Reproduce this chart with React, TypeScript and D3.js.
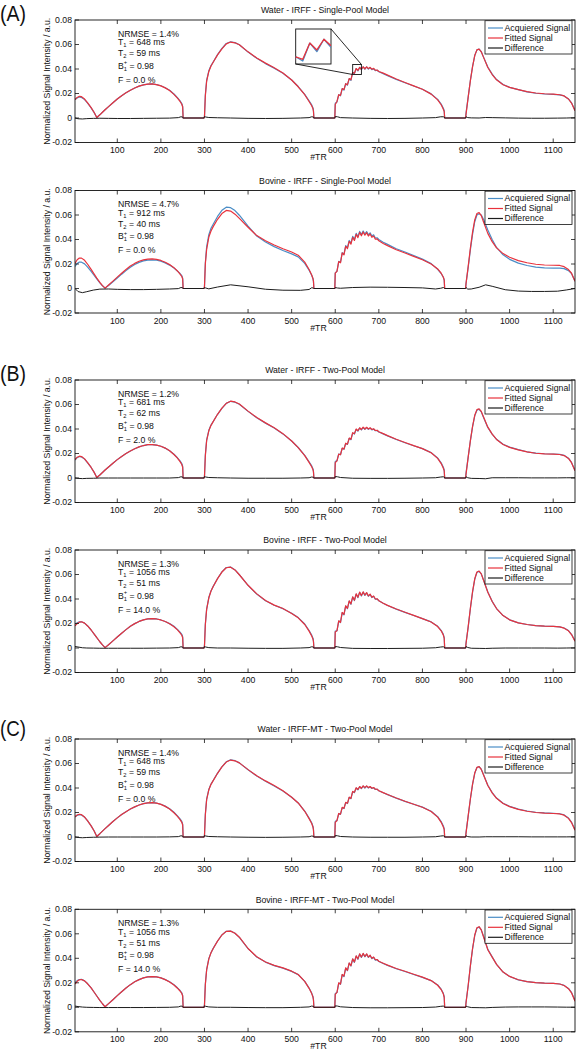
import React from "react";
import * as d3 from "d3";

// ---------------- axes / text ----------------
const X_DOMAIN: [number, number] = [3, 1150];
const Y_DOMAIN: [number, number] = [-0.02, 0.08];
const X_TICKS = [100, 200, 300, 400, 500, 600, 700, 800, 900, 1000, 1100];
const Y_TICKS = [-0.02, 0, 0.02, 0.04, 0.06, 0.08];
const Y_TICK_LABELS = ["-0.02", "0", "0.02", "0.04", "0.06", "0.08"];
const X_LABEL = "#TR";
const Y_LABEL = "Normalized Signal Intensity / a.u.";
const LEGEND = ["Acquiered Signal", "Fitted Signal", "Difference"];

const TITLES = [
  "Water - IRFF - Single-Pool Model",
  "Bovine - IRFF - Single-Pool Model",
  "Water - IRFF - Two-Pool Model",
  "Bovine - IRFF - Two-Pool Model",
  "Water - IRFF-MT - Two-Pool Model",
  "Bovine - IRFF-MT - Two-Pool Model",
];
const LETTERS = ["(A)", "", "(B)", "", "(C)", ""];
const NRMSE = ["1.4%", "4.7%", "1.2%", "1.3%", "1.4%", "1.3%"];
const T1 = ["648 ms", "912 ms", "681 ms", "1056 ms", "648 ms", "1056 ms"];
const T2 = ["59 ms", "40 ms", "62 ms", "51 ms", "59 ms", "51 ms"];
const B1 = ["0.98", "0.98", "0.98", "0.98", "0.98", "0.98"];
const FRAC = ["0.0 %", "0.0 %", "2.0 %", "14.0 %", "0.0 %", "14.0 %"];

// zoomed inset (panel A, water single-pool)
const INSET_TR: [number, number] = [640, 660];
const INSET_V: [number, number] = [0.0355, 0.0437];

// ---------------- data ----------------
const TR = [
  3, 8, 13, 18, 25, 32, 40, 47, 53, 60, 66, 72, 80, 90, 100, 110, 120, 130, 140, 150, 160, 170, 180, 190, 200, 210, 220, 230, 238, 244, 248, 250, 251,
  299, 300, 302, 305, 310, 315, 320, 330, 340, 350, 360, 370, 380, 400, 420, 440, 460, 480, 500, 515, 530, 540, 546, 549, 550, 551,
  599, 600, 604, 608, 612, 616, 620, 624, 628, 632, 636, 640, 644, 648, 652, 656, 660, 664, 668, 672, 676, 680, 684, 688, 692, 696, 700, 710, 720, 740, 760, 780, 800, 820, 835, 843, 848, 850, 851,
  899, 900, 905, 910, 915, 920, 925, 930, 935, 940, 950, 960, 970, 985, 1000, 1020, 1040, 1060, 1080, 1100, 1115, 1125, 1135, 1142, 1150,
];
const TR_DIFF = [
  3, 10, 20, 30, 45, 60, 80, 100, 130, 160, 190, 220, 240, 246, 250, 251,
  299, 300, 303, 310, 330, 360, 400, 440, 480, 520, 540, 546, 550, 551,
  599, 600, 605, 612, 640, 680, 720, 760, 800, 830, 842, 848, 850, 851,
  899, 900, 904, 912, 930, 945, 960, 990, 1020, 1050, 1080, 1110, 1130, 1150,
];

// Water - IRFF - Single-Pool
const WATER_SP_ACQ = [
  .0150, .0164, .0171, .0168, .0150, .0121, .0083, .0044, .0004, .0026, .0047, .0067, .0093, .0125, .0155, .0182, .0206, .0227, .0245, .0260, .0271, .0277, .0278, .0273, .0263, .0247, .0226, .0196, .0166, .0140, .0118, .0095, 0,
  0, .0010, .0190, .0310, .0385, .0428, .0457, .0517, .0568, .0608, .0622, .0615, .0598, .0538, .0487, .0444, .0407, .0365, .0310, .0257, .0193, .0140, .0107, .0082, .0062, 0,
  0, .0120, .0131, .0190, .0181, .0240, .0228, .0280, .0268, .0322, .0308, .0372, .0362, .0404, .0384, .0413, .0394, .0418, .0398, .0417, .0399, .0412, .0395, .0402, .0387, .0390, .0377, .0362, .0346, .0315, .0288, .0261, .0235, .0197, .0152, .0114, .0080, .0060, 0,
  0, .0040, .0172, .0306, .0420, .0510, .0556, .0562, .0541, .0499, .0416, .0358, .0314, .0273, .0250, .0231, .0213, .0202, .0196, .0193, .0189, .0180, .0156, .0124, .0062,
];
const WATER_SP_FIT = [
  .0150, .0168, .0177, .0174, .0155, .0124, .0085, .0045, .0004, .0026, .0047, .0067, .0093, .0125, .0155, .0182, .0206, .0227, .0245, .0260, .0271, .0277, .0278, .0273, .0262, .0246, .0224, .0193, .0162, .0135, .0112, .0090, 0,
  0, .0010, .0180, .0300, .0380, .0425, .0455, .0515, .0565, .0605, .0620, .0614, .0598, .0540, .0490, .0448, .0410, .0368, .0310, .0255, .0190, .0135, .0100, .0075, .0055, 0,
  0, .0110, .0135, .0190, .0185, .0240, .0232, .0280, .0272, .0322, .0312, .0372, .0366, .0404, .0388, .0413, .0398, .0418, .0402, .0418, .0403, .0414, .0398, .0405, .0390, .0392, .0380, .0366, .0350, .0318, .0290, .0262, .0235, .0195, .0148, .0108, .0072, .0052, 0,
  0, .0030, .0170, .0305, .0420, .0510, .0556, .0562, .0540, .0497, .0412, .0355, .0312, .0272, .0250, .0232, .0215, .0204, .0198, .0195, .0190, .0180, .0155, .0122, .0060,
];
const WATER_SP_DIFF = [
  0, -.0006, -.0008, -.0005, -.0003, -.0002, -.0003, -.0004, -.0004, -.0003, -.0002, -.0001, .0003, .0010, .0008, 0,
  0, .0012, .0008, .0004, .0002, .0000, -.0003, -.0004, -.0003, .0000, .0003, .0010, .0008, 0,
  0, .0012, .0010, .0003, .0000, -.0003, -.0004, -.0003, .0000, .0003, .0010, .0010, .0008, 0,
  0, .0010, .0003, .0001, .0000, .0004, .0003, .0001, -.0001, -.0002, -.0002, -.0001, .0000, .0002,
];

// Bovine - IRFF - Single-Pool
const BOVINE_SP_ACQ = [
  .0180, .0205, .0216, .0215, .0201, .0175, .0140, .0106, .0078, .0046, .0022, .0003, .0025, .0055, .0086, .0117, .0146, .0174, .0196, .0213, .0225, .0232, .0234, .0231, .0223, .0209, .0191, .0167, .0142, .0122, .0105, .0085, 0,
  0, .0015, .0210, .0340, .0440, .0492, .0525, .0588, .0638, .0664, .0660, .0636, .0598, .0510, .0428, .0380, .0342, .0310, .0283, .0258, .0205, .0150, .0108, .0079, .0060, 0,
  0, .0128, .0142, .0222, .0213, .0292, .0280, .0350, .0333, .0392, .0370, .0426, .0400, .0450, .0424, .0466, .0440, .0470, .0445, .0465, .0438, .0455, .0428, .0438, .0412, .0414, .0400, .0378, .0360, .0325, .0298, .0269, .0240, .0203, .0157, .0122, .0092, .0070, 0,
  0, .0040, .0172, .0315, .0442, .0545, .0600, .0610, .0600, .0565, .0478, .0400, .0335, .0275, .0238, .0207, .0188, .0175, .0168, .0167, .0167, .0162, .0146, .0122, .0060,
];
const BOVINE_SP_FIT = [
  .0205, .0235, .0249, .0248, .0230, .0198, .0156, .0117, .0085, .0050, .0024, .0003, .0028, .0060, .0093, .0125, .0155, .0183, .0205, .0222, .0234, .0240, .0242, .0238, .0229, .0214, .0195, .0170, .0143, .0118, .0098, .0078, 0,
  0, .0015, .0200, .0320, .0420, .0470, .0505, .0565, .0612, .0637, .0632, .0607, .0572, .0500, .0432, .0390, .0355, .0325, .0298, .0272, .0215, .0155, .0110, .0080, .0060, 0,
  0, .0125, .0140, .0220, .0210, .0290, .0275, .0345, .0325, .0385, .0362, .0418, .0392, .0442, .0415, .0458, .0430, .0462, .0435, .0456, .0428, .0445, .0418, .0428, .0402, .0405, .0390, .0368, .0350, .0316, .0290, .0262, .0235, .0200, .0160, .0125, .0092, .0068, 0,
  0, .0040, .0180, .0330, .0460, .0560, .0612, .0620, .0595, .0545, .0450, .0382, .0332, .0285, .0255, .0228, .0210, .0198, .0192, .0190, .0188, .0178, .0155, .0125, .0060,
];
const BOVINE_SP_DIFF = [
  0, -.0025, -.0034, -.0026, -.0013, -.0005, -.0004, -.0007, -.0009, -.0009, -.0007, -.0004, -.0001, .0008, .0006, 0,
  0, .0008, .0004, -.0003, .0012, .0030, .0014, -.0006, -.0014, -.0015, -.0008, .0006, .0004, 0,
  0, .0008, .0004, .0002, .0008, .0011, .0010, .0008, .0005, -.0004, .0002, .0008, .0005, 0,
  0, .0008, -.0005, -.0004, .0010, .0030, .0018, -.0010, -.0021, -.0024, -.0024, -.0022, -.0012, .0000,
];

// Water - IRFF - Two-Pool
const WATER_TP_ACQ = [
  .0147, .0166, .0175, .0172, .0154, .0124, .0086, .0046, .0004, .0025, .0045, .0065, .0090, .0121, .0150, .0176, .0200, .0221, .0239, .0254, .0265, .0272, .0273, .0269, .0259, .0244, .0223, .0194, .0165, .0140, .0118, .0096, 0,
  0, .0012, .0190, .0312, .0389, .0432, .0461, .0520, .0569, .0609, .0626, .0619, .0602, .0544, .0492, .0448, .0408, .0360, .0302, .0249, .0184, .0132, .0099, .0074, .0056, 0,
  0, .0135, .0142, .0196, .0190, .0243, .0235, .0282, .0274, .0324, .0313, .0367, .0359, .0397, .0383, .0407, .0393, .0412, .0397, .0411, .0397, .0407, .0393, .0399, .0386, .0388, .0376, .0360, .0344, .0314, .0288, .0263, .0240, .0207, .0163, .0124, .0088, .0065, 0,
  0, .0040, .0172, .0303, .0418, .0507, .0553, .0561, .0540, .0496, .0413, .0358, .0316, .0275, .0252, .0232, .0214, .0203, .0198, .0196, .0193, .0185, .0162, .0127, .0062,
];
const WATER_TP_FIT = [
  .0150, .0170, .0178, .0175, .0156, .0125, .0086, .0046, .0004, .0025, .0045, .0065, .0090, .0121, .0150, .0176, .0200, .0221, .0239, .0254, .0265, .0272, .0273, .0269, .0259, .0244, .0222, .0192, .0162, .0134, .0110, .0088, 0,
  0, .0010, .0180, .0305, .0385, .0430, .0460, .0520, .0570, .0610, .0627, .0621, .0604, .0546, .0494, .0450, .0410, .0362, .0302, .0248, .0182, .0128, .0092, .0068, .0050, 0,
  0, .0125, .0140, .0195, .0190, .0244, .0236, .0284, .0276, .0326, .0316, .0370, .0362, .0400, .0386, .0410, .0396, .0415, .0400, .0414, .0400, .0410, .0396, .0402, .0388, .0390, .0378, .0362, .0346, .0316, .0290, .0264, .0240, .0206, .0160, .0118, .0080, .0058, 0,
  0, .0030, .0170, .0305, .0422, .0512, .0558, .0565, .0543, .0500, .0415, .0358, .0315, .0274, .0250, .0230, .0213, .0202, .0197, .0195, .0192, .0183, .0160, .0125, .0060,
];
const WATER_TP_DIFF = [
  0, -.0003, -.0005, -.0003, -.0002, .0000, .0000, .0000, .0000, .0000, .0000, .0000, .0003, .0010, .0008, 0,
  0, .0012, .0008, .0004, .0002, .0000, -.0002, -.0002, -.0002, .0000, .0002, .0008, .0006, 0,
  0, .0012, .0010, .0004, -.0002, -.0003, -.0003, -.0002, .0000, .0002, .0008, .0010, .0008, 0,
  0, .0010, .0002, -.0003, -.0004, -.0006, .0002, .0002, .0002, .0001, .0001, .0001, .0002, .0002,
];

// Bovine - IRFF - Two-Pool
const BOVINE_TP_ACQ = [
  .0195, .0206, .0213, .0214, .0203, .0180, .0147, .0114, .0084, .0051, .0025, .0003, .0027, .0058, .0090, .0121, .0150, .0177, .0199, .0217, .0230, .0238, .0240, .0237, .0229, .0216, .0199, .0177, .0152, .0130, .0112, .0092, 0,
  0, .0022, .0195, .0318, .0412, .0466, .0503, .0567, .0621, .0657, .0661, .0637, .0598, .0511, .0440, .0386, .0349, .0321, .0283, .0248, .0196, .0143, .0105, .0080, .0060, 0,
  0, .0138, .0140, .0220, .0207, .0288, .0271, .0343, .0321, .0383, .0357, .0416, .0387, .0440, .0411, .0454, .0425, .0456, .0429, .0450, .0422, .0438, .0412, .0422, .0398, .0400, .0385, .0365, .0347, .0317, .0291, .0265, .0240, .0213, .0177, .0144, .0112, .0085, 0,
  0, .0042, .0170, .0320, .0455, .0560, .0617, .0626, .0605, .0556, .0457, .0381, .0322, .0265, .0230, .0205, .0192, .0183, .0178, .0176, .0172, .0163, .0142, .0112, .0058,
];
const BOVINE_TP_FIT = [
  .0180, .0200, .0211, .0214, .0203, .0180, .0147, .0114, .0084, .0051, .0025, .0003, .0027, .0058, .0090, .0121, .0150, .0177, .0199, .0217, .0230, .0238, .0240, .0237, .0229, .0216, .0198, .0174, .0148, .0124, .0104, .0084, 0,
  0, .0015, .0190, .0315, .0410, .0465, .0502, .0566, .0620, .0655, .0660, .0637, .0598, .0512, .0442, .0388, .0350, .0322, .0282, .0246, .0192, .0138, .0098, .0072, .0053, 0,
  0, .0130, .0142, .0222, .0210, .0290, .0274, .0345, .0324, .0385, .0360, .0418, .0390, .0442, .0414, .0456, .0428, .0458, .0432, .0452, .0425, .0440, .0414, .0424, .0400, .0402, .0386, .0366, .0348, .0318, .0292, .0266, .0240, .0212, .0175, .0140, .0105, .0078, 0,
  0, .0035, .0175, .0325, .0460, .0565, .0620, .0628, .0605, .0555, .0455, .0380, .0322, .0265, .0230, .0205, .0192, .0183, .0178, .0176, .0172, .0162, .0140, .0110, .0055,
];
const BOVINE_TP_DIFF = [
  .0012, .0008, .0002, .0000, -.0001, -.0002, -.0002, -.0002, -.0002, -.0002, -.0001, .0000, .0003, .0010, .0008, 0,
  0, .0012, .0008, .0003, .0000, .0000, -.0002, -.0003, -.0003, .0000, .0003, .0010, .0008, 0,
  0, .0012, .0010, .0004, -.0003, -.0004, -.0004, -.0003, -.0002, .0002, .0008, .0010, .0008, 0,
  0, .0012, .0004, -.0002, -.0003, -.0004, -.0002, .0000, .0000, .0000, .0000, -.0001, .0000, .0001,
];

// Water - IRFF-MT - Two-Pool
const WATER_MT_ACQ = [
  .0163, .0177, .0183, .0180, .0162, .0131, .0091, .0049, .0004, .0027, .0048, .0068, .0094, .0126, .0156, .0183, .0207, .0228, .0246, .0261, .0272, .0279, .0280, .0276, .0267, .0252, .0231, .0202, .0173, .0148, .0127, .0105, 0,
  0, .0012, .0188, .0310, .0388, .0432, .0461, .0521, .0573, .0614, .0630, .0623, .0605, .0549, .0498, .0455, .0417, .0376, .0324, .0278, .0212, .0154, .0116, .0087, .0065, 0,
  0, .0128, .0134, .0191, .0185, .0240, .0232, .0281, .0273, .0323, .0313, .0370, .0362, .0400, .0385, .0410, .0395, .0416, .0400, .0415, .0400, .0410, .0396, .0402, .0388, .0390, .0377, .0361, .0346, .0317, .0291, .0267, .0244, .0210, .0166, .0126, .0090, .0068, 0,
  0, .0038, .0170, .0308, .0430, .0520, .0567, .0574, .0553, .0510, .0423, .0363, .0318, .0276, .0250, .0228, .0212, .0202, .0197, .0194, .0190, .0180, .0155, .0121, .0060,
];
const WATER_MT_FIT = [
  .0165, .0180, .0186, .0182, .0163, .0132, .0091, .0049, .0004, .0027, .0048, .0068, .0094, .0126, .0156, .0183, .0207, .0228, .0246, .0261, .0272, .0279, .0280, .0276, .0266, .0250, .0228, .0198, .0168, .0142, .0120, .0098, 0,
  0, .0010, .0180, .0305, .0385, .0430, .0460, .0520, .0572, .0612, .0628, .0622, .0605, .0550, .0500, .0458, .0420, .0378, .0325, .0278, .0210, .0150, .0110, .0080, .0058, 0,
  0, .0120, .0135, .0192, .0187, .0242, .0234, .0283, .0275, .0325, .0315, .0372, .0365, .0402, .0388, .0412, .0398, .0418, .0403, .0417, .0403, .0412, .0398, .0404, .0390, .0391, .0378, .0362, .0347, .0318, .0292, .0267, .0243, .0208, .0162, .0120, .0082, .0060, 0,
  0, .0030, .0175, .0312, .0432, .0522, .0568, .0574, .0552, .0508, .0420, .0360, .0316, .0274, .0248, .0226, .0210, .0200, .0195, .0192, .0188, .0178, .0152, .0118, .0055,
];
const WATER_MT_DIFF = [
  0, -.0004, -.0006, -.0004, -.0002, -.0001, .0000, .0000, .0000, .0000, .0000, .0001, .0003, .0010, .0008, 0,
  0, .0012, .0008, .0004, .0002, .0000, -.0002, -.0003, -.0002, .0000, .0002, .0008, .0006, 0,
  0, .0012, .0010, .0004, .0000, -.0002, -.0002, -.0002, .0000, .0002, .0008, .0010, .0008, 0,
  0, .0010, .0003, .0000, .0000, .0002, .0002, .0002, .0002, .0001, .0001, .0001, .0001, .0002,
];

// Bovine - IRFF-MT - Two-Pool
const BOVINE_MT_ACQ = [
  .0200, .0218, .0227, .0228, .0216, .0192, .0158, .0123, .0092, .0057, .0029, .0004, .0030, .0062, .0095, .0127, .0157, .0185, .0208, .0226, .0240, .0248, .0251, .0248, .0240, .0226, .0208, .0184, .0159, .0137, .0118, .0097, 0,
  0, .0022, .0190, .0308, .0397, .0446, .0481, .0541, .0591, .0621, .0623, .0604, .0571, .0479, .0411, .0369, .0340, .0320, .0293, .0267, .0212, .0157, .0116, .0087, .0065, 0,
  0, .0112, .0120, .0198, .0187, .0266, .0251, .0320, .0299, .0360, .0337, .0393, .0367, .0418, .0392, .0434, .0407, .0438, .0412, .0434, .0407, .0423, .0397, .0408, .0385, .0388, .0374, .0358, .0342, .0315, .0292, .0268, .0244, .0218, .0182, .0148, .0114, .0086, 0,
  0, .0042, .0176, .0335, .0475, .0585, .0646, .0655, .0632, .0580, .0473, .0412, .0351, .0288, .0251, .0224, .0209, .0201, .0197, .0195, .0190, .0179, .0154, .0121, .0055,
];
const BOVINE_MT_FIT = [
  .0190, .0212, .0224, .0227, .0216, .0192, .0158, .0123, .0092, .0057, .0029, .0004, .0030, .0062, .0095, .0127, .0157, .0185, .0208, .0226, .0240, .0248, .0251, .0248, .0240, .0226, .0207, .0182, .0156, .0133, .0113, .0092, 0,
  0, .0015, .0185, .0305, .0395, .0445, .0480, .0540, .0590, .0620, .0622, .0605, .0572, .0480, .0412, .0370, .0342, .0322, .0295, .0268, .0212, .0155, .0112, .0082, .0060, 0,
  0, .0105, .0122, .0200, .0190, .0268, .0254, .0322, .0302, .0362, .0340, .0395, .0370, .0420, .0395, .0436, .0410, .0440, .0415, .0436, .0410, .0425, .0400, .0410, .0388, .0390, .0376, .0360, .0344, .0317, .0294, .0270, .0246, .0218, .0180, .0145, .0108, .0080, 0,
  0, .0035, .0180, .0340, .0480, .0590, .0650, .0658, .0632, .0578, .0470, .0410, .0350, .0288, .0252, .0225, .0210, .0202, .0198, .0196, .0190, .0178, .0152, .0118, .0050,
];
const BOVINE_MT_DIFF = [
  .0010, .0006, .0002, .0000, -.0001, -.0002, -.0002, -.0002, -.0002, -.0002, -.0001, .0000, .0003, .0010, .0008, 0,
  0, .0012, .0008, .0003, .0000, .0000, -.0002, -.0003, -.0003, .0000, .0003, .0010, .0008, 0,
  0, .0012, .0010, .0004, -.0002, -.0004, -.0004, -.0003, -.0002, .0002, .0008, .0010, .0008, 0,
  0, .0010, .0004, -.0002, -.0003, -.0004, -.0001, .0002, .0003, .0003, .0003, .0002, .0001, .0001,
];

const ACQ = [WATER_SP_ACQ, BOVINE_SP_ACQ, WATER_TP_ACQ, BOVINE_TP_ACQ, WATER_MT_ACQ, BOVINE_MT_ACQ];
const FIT = [WATER_SP_FIT, BOVINE_SP_FIT, WATER_TP_FIT, BOVINE_TP_FIT, WATER_MT_FIT, BOVINE_MT_FIT];
const DIFF = [WATER_SP_DIFF, BOVINE_SP_DIFF, WATER_TP_DIFF, BOVINE_TP_DIFF, WATER_MT_DIFF, BOVINE_MT_DIFF];

// ---------------- layout / style ----------------
const W = 579;
const H = 1050;
const LEFT = 75;
const RIGHT = 575;
const PH = 122.5;
const TOPS = [20, 190.5, 380, 550, 739, 909.3];
const LETTER_Y = [21, 0, 381, 0, 735.7, 0];
const FONT = '"Liberation Sans", Arial, Helvetica, sans-serif';
const FS = 8.7;
const C_ACQ = "#4a8dc6";
const C_FIT = "#e8323c";
const C_DIFF = "#1c1c1c";
const INSET_BOX = { x0: 295.7, x1: 331, y0: 29, y1: 64 };

const xScale = d3.scaleLinear().domain(X_DOMAIN).range([LEFT, RIGHT]);

function Panel({ k }: { k: number }) {
  const top = TOPS[k];
  const bottom = top + PH;
  const y = d3.scaleLinear().domain(Y_DOMAIN).range([bottom, top]);
  const lineMain = d3
    .line<number>()
    .x((_, i) => xScale(TR[i]))
    .y((d) => y(d));
  const lineDiff = d3
    .line<number>()
    .x((_, i) => xScale(TR_DIFF[i]))
    .y((d) => y(d));
  const clipId = `clip-${k}`;
  const sx = 118;
  const tick = 4;
  const legX = 485;
  const legW = 87;
  return (
    <g>
      <defs>
        <clipPath id={clipId}>
          <rect x={LEFT} y={top} width={RIGHT - LEFT} height={PH} />
        </clipPath>
      </defs>
      {LETTERS[k] && (
        <text x={0} y={LETTER_Y[k]} fontSize={22} textLength={26} lengthAdjust="spacingAndGlyphs" fill="#111">
          {LETTERS[k]}
        </text>
      )}
      <text x={(LEFT + RIGHT) / 2} y={top - 6.7} fontSize={FS} textAnchor="middle" fill="#111">
        {TITLES[k]}
      </text>
      <g clipPath={`url(#${clipId})`} fill="none" strokeLinejoin="round">
        <path d={lineMain(ACQ[k]) || ""} stroke={C_ACQ} strokeWidth={1.2} />
        <path d={lineMain(FIT[k]) || ""} stroke={C_FIT} strokeWidth={1.2} />
        <path d={lineDiff(DIFF[k]) || ""} stroke={C_DIFF} strokeWidth={1} />
      </g>
      {/* frame */}
      <rect x={LEFT} y={top} width={RIGHT - LEFT} height={PH} fill="none" stroke="#111" strokeWidth={0.9} />
      {X_TICKS.map((t) => (
        <g key={`xt${t}`}>
          <line x1={xScale(t)} x2={xScale(t)} y1={bottom} y2={bottom - tick} stroke="#111" strokeWidth={0.8} />
          <line x1={xScale(t)} x2={xScale(t)} y1={top} y2={top + tick} stroke="#111" strokeWidth={0.8} />
          <text x={xScale(t)} y={bottom + 10.5} fontSize={FS} textAnchor="middle" fill="#111">
            {t}
          </text>
        </g>
      ))}
      {Y_TICKS.map((t, i) => (
        <g key={`yt${i}`}>
          <line x1={LEFT} x2={LEFT + tick} y1={y(t)} y2={y(t)} stroke="#111" strokeWidth={0.8} />
          <line x1={RIGHT} x2={RIGHT - tick} y1={y(t)} y2={y(t)} stroke="#111" strokeWidth={0.8} />
          <text x={LEFT - 3} y={y(t)} dy="0.33em" fontSize={FS} textAnchor="end" fill="#111">
            {Y_TICK_LABELS[i]}
          </text>
        </g>
      ))}
      <text x={318.5} y={bottom + 17.5} fontSize={FS} textAnchor="middle" fill="#111">
        {X_LABEL}
      </text>
      <text
        transform={`translate(47,${top + PH / 2}) rotate(-90)`}
        fontSize={FS}
        textAnchor="middle"
        dy="0.33em"
        fill="#111"
      >
        {Y_LABEL}
      </text>
      {/* parameter annotations */}
      <g fontSize={FS} fill="#111">
        <text x={sx} y={top + 16.9}>{`NRMSE = ${NRMSE[k]}`}</text>
        <text x={sx} y={top + 25.2}>
          T<tspan fontSize={5.8} dy={2}>1</tspan>
          <tspan dy={-2}>{` = ${T1[k]}`}</tspan>
        </text>
        <text x={sx} y={top + 36.2}>
          T<tspan fontSize={5.8} dy={2}>2</tspan>
          <tspan dy={-2}>{` = ${T2[k]}`}</tspan>
        </text>
        <text x={sx} y={top + 48.5}>
          B<tspan fontSize={5.8} dy={-4.2}>+</tspan>
          <tspan fontSize={5.8} dx={-3.4} dy={6.6}>1</tspan>
          <tspan dy={-2.4}>{` = ${B1[k]}`}</tspan>
        </text>
        <text x={sx} y={top + 62.5}>{`F = ${FRAC[k]}`}</text>
      </g>
      {/* legend */}
      <rect x={legX} y={top + 0.7} width={legW} height={33.3} fill="#fff" stroke="#111" strokeWidth={0.8} />
      {LEGEND.map((name, i) => {
        const cy = top + 8 + i * 10;
        const col = [C_ACQ, C_FIT, C_DIFF][i];
        return (
          <g key={name}>
            <line x1={legX + 3} x2={legX + 18} y1={cy} y2={cy} stroke={col} strokeWidth={1.2} />
            <text x={legX + 19.5} y={cy} dy="0.33em" fontSize={FS} fill="#111">
              {name}
            </text>
          </g>
        );
      })}
      {k === 0 && <Inset y={y} />}
    </g>
  );
}

function Inset({ y }: { y: d3.ScaleLinear<number, number> }) {
  const b = INSET_BOX;
  const xi = d3.scaleLinear().domain(INSET_TR).range([b.x0, b.x1]);
  const yi = d3.scaleLinear().domain(INSET_V).range([b.y1, b.y0]);
  const li = d3
    .line<number>()
    .x((_, i) => xi(TR[i]))
    .y((d) => yi(d));
  const rx0 = xScale(INSET_TR[0]);
  const rx1 = xScale(INSET_TR[1]);
  const ry0 = y(INSET_V[1]);
  const ry1 = y(INSET_V[0]);
  return (
    <g>
      <defs>
        <clipPath id="inset-clip">
          <rect x={b.x0} y={b.y0} width={b.x1 - b.x0} height={b.y1 - b.y0} />
        </clipPath>
      </defs>
      <rect x={b.x0} y={b.y0} width={b.x1 - b.x0} height={b.y1 - b.y0} fill="#fff" stroke="#111" strokeWidth={0.9} />
      <g clipPath="url(#inset-clip)" fill="none" strokeLinejoin="round">
        <path d={li(ACQ[0]) || ""} stroke={C_ACQ} strokeWidth={1.3} />
        <path d={li(FIT[0]) || ""} stroke={C_FIT} strokeWidth={1.3} />
      </g>
      <rect x={rx0} y={ry0} width={rx1 - rx0} height={ry1 - ry0} fill="none" stroke="#111" strokeWidth={0.9} />
      <line x1={b.x1} y1={b.y0} x2={rx1} y2={ry0} stroke="#111" strokeWidth={0.9} />
      <line x1={b.x0} y1={b.y1} x2={rx0} y2={ry1} stroke="#111" strokeWidth={0.9} />
    </g>
  );
}

export default function App() {
  return (
    <svg
      width={W}
      height={H}
      viewBox={`0 0 ${W} ${H}`}
      style={{ position: "absolute", left: 0, top: 0, display: "block" }}
      fontFamily={FONT}
    >
      <rect x={0} y={0} width={W} height={H} fill="#fff" />
      {TITLES.map((_, k) => (
        <Panel key={k} k={k} />
      ))}
    </svg>
  );
}
